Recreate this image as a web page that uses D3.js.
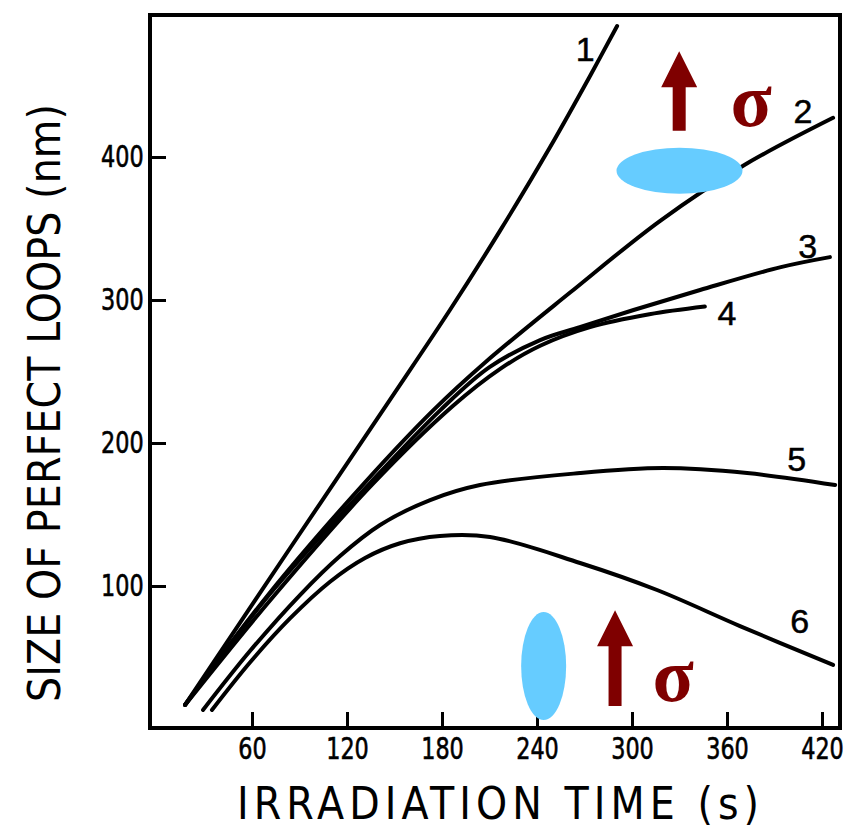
<!DOCTYPE html>
<html>
<head>
<meta charset="utf-8">
<script src="https://cdn.jsdelivr.net/npm/d3@7"></script>
<style>
  html, body { margin: 0; padding: 0; background: #fff; }
  svg { display: block; }
</style>
</head>
<body>
<svg id="chart" width="850" height="831"></svg>
<script>
// time (s) vs loop size (nm)
var curve1 = [[17.7, 16.8], [84, 126.4], [147, 230], [185, 293], [216.7, 348.5], [248.3, 407], [273.5, 456.7], [290.6, 491.6]];
var curve2 = [[17.7, 16.8], [70, 93.6], [131.4, 172.5], [174.4, 222.8], [207.2, 256.3], [260.9, 305.2], [317.8, 355.4], [370.2, 393.9], [427, 427.4]];
var curve3 = [[17.7, 16.8], [71, 94], [135, 172.5], [179, 223], [210, 253], [242, 272], [267, 281], [301, 293], [343, 307], [394, 323], [425, 330]];
var curve4 = [[17.7, 16.8], [73, 92], [136, 171], [187, 226], [217, 252], [242, 268], [273.5, 281], [311, 290], [346, 295.4]];
var curve5 = [[29.05, 13.3], [58.7, 54.5], [90.3, 93.7], [115.6, 121], [140.9, 142.7], [172.5, 160.1], [204, 170.6], [267.2, 179], [319.6, 182.5], [372.7, 179], [428.3, 170.6]];
var curve6 = [[34.7, 13.3], [58.7, 46.5], [84, 77.3], [109.3, 103], [131.4, 119.6], [153.5, 129.9], [178.7, 135], [210.3, 134.3], [267.2, 116.1], [315.8, 97.2], [368.2, 72], [427, 44.8]];

var curves = [curve1, curve2, curve3, curve4, curve5, curve6];
var curveNames = ["1", "2", "3", "4", "5", "6"];
var labelAt = [[270.4, 476], [408, 432], [411, 338], [360, 291], [404, 189], [406, 76]];

var xTicks = [60, 120, 180, 240, 300, 360, 420];
var yTicks = [100, 200, 300, 400];

var svg = d3.select("#chart");

var x = d3.scaleLinear().domain([0, 420]).range([157, 822]);
var y = d3.scaleLinear().domain([0, 400]).range([729, 157]);

var frameL = 150, frameR = 840, frameT = 15, frameB = 728;
var narrow = "'DejaVu Sans Condensed', 'DejaVu Sans', sans-serif";

// axes, ticks pointing inward
var xAxis = svg.append("g")
    .attr("transform", "translate(0," + frameB + ")")
    .call(d3.axisBottom(x).tickValues(xTicks).tickSize(-16).tickPadding(9).tickFormat(d3.format("d")));
var yAxis = svg.append("g")
    .attr("transform", "translate(" + frameL + ",0)")
    .call(d3.axisLeft(y).tickValues(yTicks).tickSize(-16).tickPadding(8).tickFormat(d3.format("d")));

[xAxis, yAxis].forEach(function (g) {
    g.select(".domain").remove();
    g.selectAll(".tick line").attr("stroke", "#000").attr("stroke-width", 3);
    g.selectAll(".tick text")
        .attr("fill", "#000")
        .attr("stroke", "#000")
        .attr("stroke-width", 0.6)
        .attr("transform", "scale(0.8,1)")
        .style("font-family", narrow)
        .style("font-stretch", "condensed")
        .style("font-size", "31px");
});

// frame
svg.append("rect")
    .attr("x", frameL)
    .attr("y", frameT)
    .attr("width", frameR - frameL)
    .attr("height", frameB - frameT)
    .attr("fill", "none")
    .attr("stroke", "#000")
    .attr("stroke-width", 4);

// curves
var line = d3.line()
    .x(function (d) { return x(d[0]); })
    .y(function (d) { return y(d[1]); })
    .curve(d3.curveCatmullRom.alpha(0.5));

svg.selectAll(".curve")
    .data(curves)
    .enter()
    .append("path")
    .attr("class", "curve")
    .attr("d", line)
    .attr("fill", "none")
    .attr("stroke", "#000")
    .attr("stroke-width", 4)
    .attr("stroke-linecap", "round")
    .attr("stroke-linejoin", "round");

svg.selectAll(".clabel")
    .data(curveNames)
    .enter()
    .append("text")
    .attr("class", "clabel")
    .attr("x", function (d, i) { return x(labelAt[i][0]); })
    .attr("y", function (d, i) { return y(labelAt[i][1]); })
    .attr("dy", "0.36em")
    .attr("text-anchor", "middle")
    .attr("stroke", "#000")
    .attr("stroke-width", 0.5)
    .style("font-family", "'Liberation Sans', Arial, sans-serif")
    .style("font-size", "34px")
    .text(function (d) { return d; });

// axis titles
svg.append("text")
    .attr("x", 498)
    .attr("y", 819)
    .attr("text-anchor", "middle")
    .attr("textLength", 522)
    .attr("lengthAdjust", "spacing")
    .style("font-family", narrow)
    .style("font-stretch", "condensed")
    .style("font-size", "44px")
    .text("IRRADIATION TIME (s)");

svg.append("text")
    .attr("transform", "translate(60,403) rotate(-90)")
    .attr("text-anchor", "middle")
    .attr("textLength", 598)
    .attr("lengthAdjust", "spacing")
    .style("font-family", narrow)
    .style("font-stretch", "condensed")
    .style("font-size", "44px")
    .text("SIZE OF PERFECT LOOPS (nm)");

// stress annotations
var red = "#7f0000", blue = "#66ccff";

function arrow(t, vTip, vEnd) {
    var xc = x(t), y0 = y(vTip), y1 = y(vEnd);
    var hw = 18, hl = 36, sw = 6.5;
    var d = "M" + xc + "," + y0 +
        " L" + (xc + hw) + "," + (y0 + hl) +
        " L" + (xc + sw) + "," + (y0 + hl) +
        " L" + (xc + sw) + "," + y1 +
        " L" + (xc - sw) + "," + y1 +
        " L" + (xc - sw) + "," + (y0 + hl) +
        " L" + (xc - hw) + "," + (y0 + hl) + " Z";
    svg.append("path").attr("d", d).attr("fill", red);
}

function sigma(t, v) {
    svg.append("text")
        .attr("x", x(t))
        .attr("y", y(v) + 17)
        .attr("text-anchor", "middle")
        .attr("fill", red)
        .style("font-family", "'Liberation Serif', 'DejaVu Serif', serif")
        .style("font-weight", "bold")
        .style("font-size", "76px")
        .text("σ");
}

// top: flat loop
svg.append("ellipse")
    .attr("cx", x(330)).attr("cy", y(390.4))
    .attr("rx", 63).attr("ry", 23)
    .attr("fill", blue);
arrow(329.8, 474, 418.3);
sigma(375.2, 433.7);

// bottom: upright loop
svg.append("ellipse")
    .attr("cx", x(244.2)).attr("cy", y(44))
    .attr("rx", 22.5).attr("ry", 54)
    .attr("fill", blue);
arrow(289.3, 83.1, 16.1);
sigma(326, 31.4);
</script>
</body>
</html>
